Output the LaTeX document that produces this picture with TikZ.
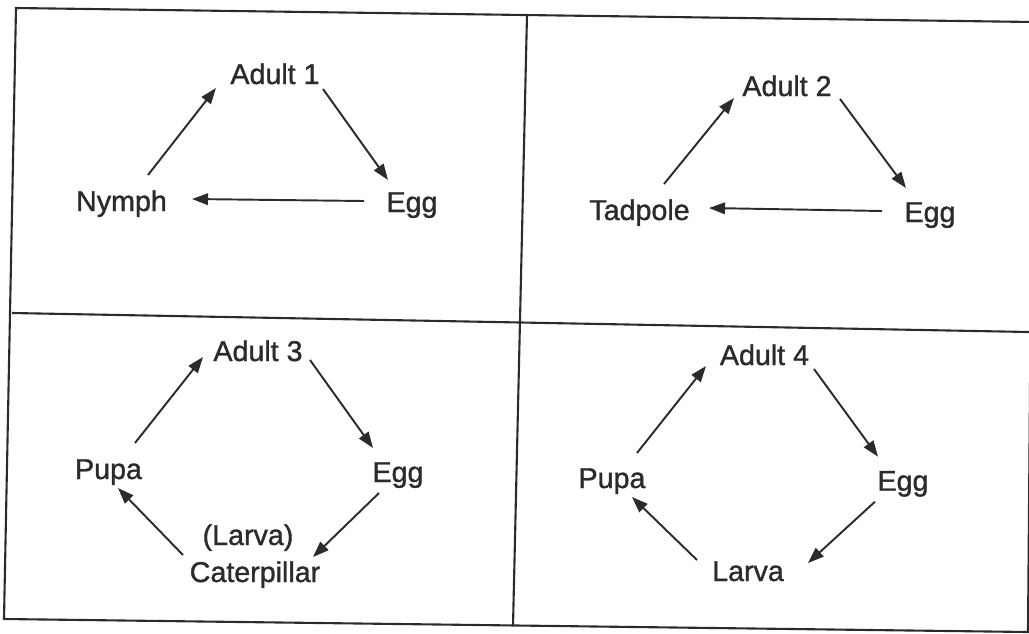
\documentclass[tikz,border=0pt]{standalone}
\usepackage{fontspec}
\setmainfont{Liberation Sans}
\newfontfamily\stagefont{Liberation Sans}[FakeBold=1.2]
\usetikzlibrary{arrows.meta}
\definecolor{ink}{HTML}{2B2B2B}

\begin{document}
\begin{tikzpicture}[x=0.02cm, y=-0.02cm,
        stage/.style={anchor=base, inner sep=0pt, text=ink, font=\stagefont\fontsize{16.3}{19}\selectfont},
        cycle/.style={draw=ink, line width=1.1pt, -{Triangle[length=0.32cm, width=0.23cm]}},
        frame/.style={draw=ink, line width=1.2pt}
    ]
        \useasboundingbox (0,0) rectangle (1029,633);

        % Table lines
        \draw[frame] (16,8) -- (1033,22) -- (1028,632) -- (4,619) -- cycle;
        \draw[frame] (12,313) -- (1029,332);
        \draw[frame] (527,15) -- (513,626);

        % Panel 1
        \node[stage] (a1) at (275,84) {Adult 1};
        \node[stage] (n1) at (121.5,211) {Nymph};
        \node[stage] (e1) at (412,212) {Egg};

        \draw[cycle] ([shift={(26.5,-36)}]n1.base) -- ([shift={(-59,4)}]a1.base);
        \draw[cycle] ([shift={(48,5)}]a1.base) -- ([shift={(-24,-32)}]e1.base);
        \draw[cycle] ([shift={(-48,-11)}]e1.base) -- ([shift={(70.5,-12)}]n1.base);

        % Panel 2
        \node[stage] (a2) at (787,96) {Adult 2};
        \node[stage] (t2) at (639.5,220) {Tadpole};
        \node[stage] (e2) at (930,222) {Egg};

        \draw[cycle] ([shift={(24.5,-36)}]t2.base) -- ([shift={(-53,2)}]a2.base);
        \draw[cycle] ([shift={(53,3)}]a2.base) -- ([shift={(-24,-34)}]e2.base);
        \draw[cycle] ([shift={(-48,-11)}]e2.base) -- ([shift={(69.5,-12)}]t2.base);

        % Panel 3
        \node[stage] (a3) at (258,361) {Adult 3};
        \node[stage] (p3) at (108.5,479) {Pupa};
        \node[stage] (e3) at (398,482) {Egg};
        \node[stage] (l3) at (248,545) {(Larva)};
        \node[stage] (c3) at (255,582) {Caterpillar};

        \draw[cycle] ([shift={(26.5,-36)}]p3.base) -- ([shift={(-55,-4)}]a3.base);
        \draw[cycle] ([shift={(52,-1)}]a3.base) -- ([shift={(-25,-34)}]e3.base);
        \draw[cycle] ([shift={(-19,11)}]e3.base) -- ([shift={(58,-25)}]c3.base);
        \draw[cycle] ([shift={(-72,-27)}]c3.base) -- ([shift={(9.5,9)}]p3.base);

        % Panel 4
        \node[stage] (a4) at (764.5,365) {Adult 4};
        \node[stage] (p4) at (612,488) {Pupa};
        \node[stage] (e4) at (903,490.7) {Egg};
        \node[stage] (l4) at (748,581) {Larva};

        \draw[cycle] ([shift={(25,-35)}]p4.base) -- ([shift={(-58.5,1)}]a4.base);
        \draw[cycle] ([shift={(49.5,4)}]a4.base) -- ([shift={(-25,-34)}]e4.base);
        \draw[cycle] ([shift={(-28,11)}]e4.base) -- ([shift={(60,-18)}]l4.base);
        \draw[cycle] ([shift={(-51,-21)}]l4.base) -- ([shift={(20,9)}]p4.base);

    \end{tikzpicture}
\end{document}
